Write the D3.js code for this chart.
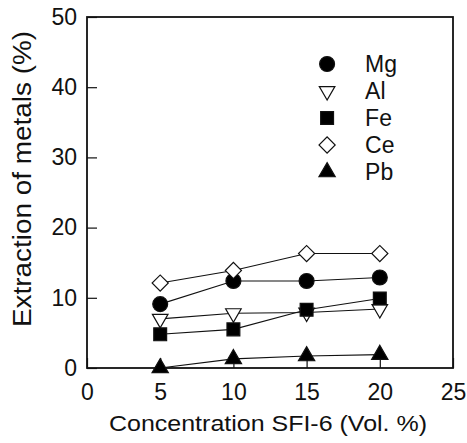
<!DOCTYPE html>
<html>
<head>
<meta charset="utf-8">
<script src="https://cdn.jsdelivr.net/npm/d3@7"></script>
<style>
  html, body { margin: 0; padding: 0; background: #fff; }
  svg { display: block; font-family: "Liberation Sans", Arial, sans-serif; }
  .axis text { font-size: 23px; fill: #111; }
  .axis path { display: none; }
  .axis line { stroke: #111; stroke-width: 1.2; }
</style>
</head>
<body>
<div id="chart"></div>
<script>
const concentration = [5, 10, 15, 20];
const mg = [9.1, 12.4, 12.4, 12.9];
const al = [7.0, 7.8, 7.9, 8.4];
const fe = [4.8, 5.5, 8.3, 9.9];
const ce = [12.1, 13.9, 16.3, 16.3];
const pb = [0.0, 1.3, 1.7, 1.9];
const seriesNames = ["Mg", "Al", "Fe", "Ce", "Pb"];
const xTicks = [0, 5, 10, 15, 20, 25];
const yTicks = [0, 10, 20, 30, 40, 50];

const width = 467, height = 443;
const margin = { top: 17, right: 14, bottom: 75, left: 87 };
const innerWidth = width - margin.left - margin.right;
const innerHeight = height - margin.top - margin.bottom;

const svg = d3.select("#chart").append("svg")
  .attr("width", width).attr("height", height);

const g = svg.append("g").attr("transform", `translate(${margin.left},${margin.top})`);

const x = d3.scaleLinear().domain([0, 25]).range([0, innerWidth]);
const y = d3.scaleLinear().domain([0, 50]).range([innerHeight, 0]);

// axes, ticks pointing inward
g.append("g").attr("class", "axis")
  .attr("transform", `translate(0,${innerHeight})`)
  .call(d3.axisBottom(x).tickValues(xTicks).tickSizeInner(-10).tickSizeOuter(0).tickPadding(16).tickFormat(d3.format("d")));
g.append("g").attr("class", "axis")
  .call(d3.axisLeft(y).tickValues(yTicks).tickSizeInner(-10).tickSizeOuter(0).tickPadding(10).tickFormat(d3.format("d")));

g.append("rect")
  .attr("width", innerWidth).attr("height", innerHeight)
  .attr("fill", "none").attr("stroke", "#111").attr("stroke-width", 1.8);

const data = [mg, al, fe, ce, pb].map((vals, i) => ({
  name: seriesNames[i],
  values: vals.map((v, j) => ({ x: concentration[j], y: v }))
}));

const shapes = {
  Mg: { type: d3.symbolCircle, size: 175, fill: "#000", rotate: 0 },
  Al: { type: d3.symbolTriangle, size: 105, fill: "#fff", rotate: 180 },
  Fe: { type: d3.symbolSquare, size: 165, fill: "#000", rotate: 0 },
  Ce: { type: d3.symbolSquare, size: 130, fill: "#fff", rotate: 45 },
  Pb: { type: d3.symbolTriangle, size: 115, fill: "#000", rotate: 0 }
};

const line = d3.line().x(d => x(d.x)).y(d => y(d.y));

g.selectAll(".series-line").data(data).join("path")
  .attr("class", "series-line")
  .attr("d", d => line(d.values))
  .attr("fill", "none").attr("stroke", "#111").attr("stroke-width", 1.1);

data.forEach(s => {
  const sh = shapes[s.name];
  g.selectAll(`.pt-${s.name}`).data(s.values).join("path")
    .attr("class", `pt-${s.name}`)
    .attr("d", d3.symbol().type(sh.type).size(sh.size))
    .attr("transform", d => `translate(${x(d.x)},${y(d.y)}) rotate(${sh.rotate})`)
    .attr("fill", sh.fill).attr("stroke", "#111").attr("stroke-width", 1.2);
});

// legend
const legend = g.append("g").attr("transform", `translate(${x(16.4)},${y(43.3)})`);
seriesNames.forEach((name, i) => {
  const sh = shapes[name];
  const row = legend.append("g").attr("transform", `translate(0,${i * 27})`);
  row.append("path")
    .attr("d", d3.symbol().type(sh.type).size(sh.size))
    .attr("transform", `rotate(${sh.rotate})`)
    .attr("fill", sh.fill).attr("stroke", "#111").attr("stroke-width", 1.2);
  row.append("text").attr("x", 38).attr("dy", "0.36em")
    .attr("font-size", 23).attr("fill", "#111").text(name);
});

// axis titles
svg.append("text")
  .attr("x", 268).attr("y", 431)
  .attr("text-anchor", "middle").attr("font-size", 22).attr("fill", "#111")
  .attr("textLength", 318).attr("lengthAdjust", "spacingAndGlyphs")
  .text("Concentration SFI-6 (Vol. %)");
svg.append("text")
  .attr("transform", `translate(22,179) rotate(-90)`)
  .attr("text-anchor", "middle").attr("dy", "0.36em").attr("font-size", 25).attr("fill", "#111")
  .attr("textLength", 296).attr("lengthAdjust", "spacingAndGlyphs")
  .text("Extraction of metals (%)");
</script>
</body>
</html>
